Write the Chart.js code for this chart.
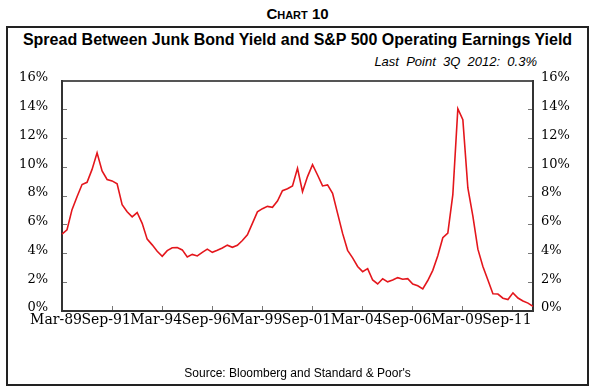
<!DOCTYPE html>
<html>
<head>
<meta charset="utf-8">
<script src="https://cdn.jsdelivr.net/npm/chart.js@4.4.1/dist/chart.umd.min.js"></script>
<style>
  html, body { margin: 0; padding: 0; background: #fff; }
  #wrap { position: relative; width: 595px; height: 389px; overflow: hidden; font-family: "Liberation Sans", Arial, sans-serif; color: #000; }
  #chartNo { position: absolute; left: 0; top: 6px; width: 595px; text-align: center; font-size: 15px; line-height: 15px; font-weight: bold; font-variant: small-caps; }
  #frame { position: absolute; left: 6px; top: 26px; width: 583px; height: 360px; box-sizing: border-box; border: 2px solid #222; }
  #title { position: absolute; left: 0; top: 32px; width: 595px; text-align: center; font-size: 16px; line-height: 16px; font-weight: bold; }
  #last { position: absolute; right: 58px; top: 55px; font-size: 13px; line-height: 13px; font-style: italic; white-space: pre; }
  #source { position: absolute; left: 0; top: 367px; width: 595px; text-align: center; font-size: 12px; line-height: 12px; }
  #chart { position: absolute; left: 0; top: 0; }
</style>
</head>
<body>
<div id="wrap">
  <div id="chartNo">Chart 10</div>
  <div id="frame"></div>
  <div id="title">Spread Between Junk Bond Yield and S&amp;P 500 Operating Earnings Yield</div>
  <div id="last">Last  Point  3Q  2012:  0.3%</div>
  <canvas id="chart" width="595" height="389"></canvas>
  <div id="source">Source: Bloomberg and Standard &amp; Poor's</div>
</div>
<script>
// Trimestres desde Mar-89 hasta Sep-12
const quarterMonths = ['Mar', 'Jun', 'Sep', 'Dec'];
const firstYear = 1989;
const quarterCount = 95;

// Etiquetas visibles del eje X
const tickLabels = ['Mar-89', 'Sep-91', 'Mar-94', 'Sep-96', 'Mar-99', 'Sep-01', 'Mar-04', 'Sep-06', 'Mar-09', 'Sep-11'];

// Etiquetas del eje Y
const yTicks = [0, 2, 4, 6, 8, 10, 12, 14, 16];

// Spread (%)
const spread = [
  5.35, 5.65, 7.05, 7.95, 8.8, 8.95, 9.85, 11.0, 9.75, 9.15,
  9.05, 8.85, 7.4, 6.9, 6.55, 6.85, 6.1, 5.0, 4.6, 4.15,
  3.8, 4.2, 4.4, 4.42, 4.25, 3.76, 3.94, 3.83, 4.08, 4.3,
  4.08, 4.22, 4.38, 4.58, 4.43, 4.57, 4.9, 5.3, 6.1, 6.9,
  7.12, 7.28, 7.21, 7.65, 8.37, 8.51, 8.7, 9.92, 8.3, 9.35,
  10.18, 9.46, 8.7, 8.77, 8.19, 6.79, 5.4, 4.22, 3.7, 3.1,
  2.74, 2.95, 2.16, 1.88, 2.24, 2.03, 2.15, 2.32, 2.21, 2.25,
  1.88, 1.75, 1.54, 2.12, 2.83, 3.84, 5.1, 5.42, 8.1, 14.07,
  13.31, 8.56, 6.6, 4.3, 3.1, 2.15, 1.2, 1.18, 0.89, 0.8,
  1.26, 0.9, 0.7, 0.55, 0.32
];

const quarters = [];
for (let i = 0; i < quarterCount; i++) {
    const yy = String((firstYear + Math.floor(i / 4)) % 100).padStart(2, '0');
    quarters.push(quarterMonths[i % 4] + '-' + yy);
}

const tickFont = { family: '"DejaVu Serif", serif', size: 13 };
const xTickFont = { family: '"DejaVu Serif", serif', size: 14 };
const tickGrey = '#777';
const axisDark = '#333';

// Eje Y (izquierda y derecha comparten la configuración)
function yAxis(position, padding, width) {
    return {
        position: position,
        min: 0,
        max: 16,
        afterBuildTicks: (scale) => { scale.ticks = yTicks.map(v => ({ value: v })); },
        afterFit: (scale) => { scale.width = width; },
        ticks: {
            font: tickFont,
            color: '#000',
            padding: padding,
            labelOffset: -3,
            callback: (v) => v + '%'
        },
        grid: {
            drawOnChartArea: false,
            drawTicks: true,
            tickLength: -5,
            tickColor: tickGrey
        },
        border: { display: true, color: axisDark, width: 2 }
    };
}

const config = {
    type: 'line',
    data: {
        labels: quarters,
        datasets: [{
            label: 'Spread',
            data: spread,
            borderColor: 'rgb(228, 22, 28)',
            borderWidth: 1.6,
            pointRadius: 0,
            tension: 0,
            fill: false,
            yAxisID: 'y'
        }]
    },
    options: {
        responsive: false,
        animation: false,
        layout: { padding: { left: 10, right: 10, top: 81, bottom: 40 } },
        plugins: {
            legend: { display: false },
            tooltip: { enabled: false }
        },
        scales: {
            x: {
                type: 'category',
                offset: false,
                afterFit: (scale) => { scale.height = 38; },
                ticks: {
                    autoSkip: false,
                    maxRotation: 0,
                    font: xTickFont,
                    color: '#000',
                    padding: 6,
                    labelOffset: -6,
                    callback: function (value) {
                        const lab = this.getLabelForValue(value);
                        return tickLabels.includes(lab) ? lab : '';
                    }
                },
                grid: {
                    drawOnChartArea: false,
                    drawTicks: true,
                    tickLength: -5,
                    tickColor: (ctx) => (ctx.index % 10 === 0 ? tickGrey : 'rgba(0,0,0,0)')
                },
                border: { display: true, color: axisDark, width: 2 }
            },
            xTop: {
                type: 'category',
                position: 'top',
                offset: false,
                afterFit: (scale) => { scale.height = 0; },
                ticks: { display: false },
                grid: { drawOnChartArea: false, drawTicks: false },
                border: { display: true, color: '#555', width: 2 }
            },
            y: yAxis('left', 19, 52),
            y2: yAxis('right', 13, 52)
        }
    }
};

const ctx = document.getElementById('chart').getContext('2d');
new Chart(ctx, config);
</script>
</body>
</html>
